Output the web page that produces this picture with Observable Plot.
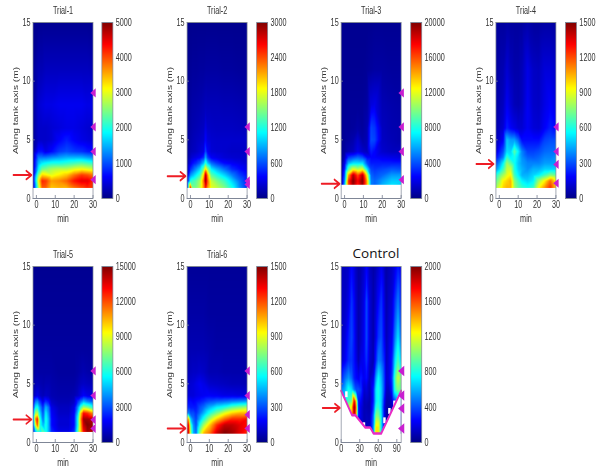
<!DOCTYPE html>
<html><head><meta charset="utf-8">
<script src="https://cdn.jsdelivr.net/npm/d3@7"></script>
<script src="https://cdn.jsdelivr.net/npm/@observablehq/plot@0.6"></script>
<style>
html,body{margin:0;padding:0;background:#fff;width:600px;height:471px;overflow:hidden}
#page{position:absolute;left:0;top:0;width:845px;height:471px;transform:scaleX(.71);transform-origin:0 0;filter:blur(.4px)}
#page svg{position:absolute;overflow:visible;background:transparent}
#ctitle{position:absolute;left:346px;width:60px;top:244px;text-align:center;font:13.5px "Open Sans",sans-serif;color:#111}
</style></head><body>
<div id="page"></div><div id="ctitle">Control</div>
<script>
const titles = ["Trial-1","Trial-2","Trial-3","Trial-4","Trial-5","Trial-6","Control"];
const maxima = [5000,3000,20000,1500,15000,1500,2000];
const barTicks = [
  [0,1000,2000,3000,4000,5000],[0,600,1200,1800,2400,3000],[0,4000,8000,12000,16000,20000],
  [0,300,600,900,1200,1500],[0,3000,6000,9000,12000,15000],[0,300,600,900,1200,1500],[0,400,800,1200,1600,2000]];
const timeTicks = [0,10,20,30];
const controlTimeTicks = [0,30,60,90];
const depthTicks = [0,5,10,15];
const jetStops = [0,.125,.375,.625,.875,1];
const jetColors = ["#000085","#0000ff","#00ffff","#ffff00","#ff0000","#800000"];

const t1 = [-1.8,1,3,5,8,12,16,20,24,27,30];
const d1 = [0.9,1.5,2,2.5,3,3.5,4,5,6,8,11,15];
const g1 = [
 [300,2600,3900,3900,3400,3500,3500,3800,4000,4200,4100],
 [400,3000,4200,4100,3600,3700,3900,4300,4500,4500,4200],
 [300,2500,3300,3200,3000,3200,3400,3800,4100,4000,3800],
 [250,1800,2400,2500,2700,2800,2800,3000,3100,3000,2900],
 [200,1500,1800,1900,2000,2000,2100,2200,2300,2200,2100],
 [150,1200,1200,1200,1300,1400,1500,1500,1500,1400,1300],
 [120,700,700,500,650,900,1000,900,850,750,700],
 [100,350,350,350,400,600,750,600,500,450,400],
 [100,350,350,350,400,450,500,500,450,400,350],
 [100,400,450,500,500,550,550,550,550,500,500],
 [100,250,250,300,300,300,300,300,300,300,250],
 [60,70,70,70,70,70,70,70,70,70,70]];

const t2 = [-1.8,0,1,3,5,7,8,9,11,14,18,22,26,30];
const d2 = [0.9,1.5,2,2.5,3,3.5,4,5,6,8,11,15];
const g2 = [
 [300,2700,1500,1500,1700,2200,2600,2200,1800,1700,1500,1200,800,500],
 [200,1200,1300,1400,1600,2300,3000,2400,1700,1500,1300,1000,700,450],
 [150,800,900,1100,1300,2000,2900,2200,1400,1200,1000,750,550,400],
 [100,500,600,800,1000,1500,2000,1600,1100,900,700,500,400,300],
 [80,300,400,500,650,950,1300,1000,700,550,400,350,300,250],
 [60,200,250,300,350,500,900,550,350,300,250,230,220,220],
 [60,150,170,200,250,300,600,350,250,230,220,200,200,200],
 [60,130,150,180,200,230,380,260,230,220,220,220,220,220],
 [60,110,130,150,170,190,290,210,200,190,190,190,180,170],
 [50,90,110,120,130,150,170,160,160,160,150,150,140,130],
 [40,60,70,70,80,80,90,90,90,90,80,80,70,70],
 [30,30,30,30,30,30,30,30,30,30,30,30,30,30]];

const t3 = [-1.8,0,2,4.5,7,9.5,12,14,16,20,25,30];
const d3b = [1.17,1.5,2,2.5,3,3.5,4,5,6,8,11,15];
const g3 = [
 [300,6000,16000,19500,17000,19500,14000,5000,4500,6000,7000,6500],
 [300,5000,16500,20000,17500,20000,14000,5000,4500,5500,6500,6500],
 [250,4000,14000,19000,16000,19000,12000,4500,4000,4500,5500,5500],
 [300,3000,9000,12000,11000,12000,7000,3800,3500,3800,4200,4000],
 [300,2000,6000,7000,7000,7000,4000,3000,3000,3000,3000,3000],
 [300,1000,3500,4000,4500,4000,2500,2500,2500,2200,2000,1800],
 [300,500,1000,1200,2000,1400,1200,3000,2500,1500,1200,1200],
 [300,400,600,800,1500,700,1000,4000,3800,1300,1000,800],
 [300,400,400,500,700,500,900,3800,3500,1200,900,800],
 [300,300,400,400,400,400,600,1800,2000,1000,800,700],
 [300,300,300,300,300,300,400,500,600,600,500,500],
 [250,250,250,250,250,250,250,250,300,300,300,300]];

const t4 = [-1.8,0,2,4,6,8,10,12,15,18,21,24,27,30];
const d4 = [0.9,1.5,2,2.5,3,3.5,4,5,6,8,11,15];
const g4 = [
 [800,900,1000,1050,1050,800,700,650,600,650,950,1100,1250,1000],
 [700,800,950,1000,1050,750,650,550,500,550,800,950,1150,950],
 [600,700,800,900,950,650,550,450,450,500,550,650,750,700],
 [400,500,650,850,850,600,500,450,400,450,450,500,500,500],
 [300,400,550,800,700,580,480,420,380,380,380,420,420,420],
 [200,280,380,650,550,600,500,400,330,320,340,380,380,400],
 [120,220,300,520,500,700,550,380,280,280,300,340,350,350],
 [80,120,180,480,420,420,330,200,200,200,200,280,300,300],
 [60,90,120,230,180,150,120,120,170,130,120,180,230,200],
 [50,70,90,170,120,80,70,90,170,110,100,150,180,150],
 [40,60,70,120,80,60,60,80,150,100,90,130,130,110],
 [40,40,40,50,40,40,40,40,60,40,40,50,50,40]];

const t5 = [-1.8,-0.5,0.5,2,3.5,5,6.5,8,12,17,20,22,23.5,25,27,30];
const d5 = [0.9,1.5,2,2.5,3,3.5,4,5,6,8,11,15];
const g5 = [
 [2500,4500,6000,5500,7000,6000,4500,2500,1500,1500,2500,7000,10000,13000,14500,14000],
 [3000,9000,12000,6000,4500,6000,4500,2000,1200,1200,2000,6000,10500,14000,15000,14500],
 [3500,11000,13000,6000,3500,6000,4500,2000,1200,1200,2000,6000,11000,14500,14500,14000],
 [3000,8000,8500,5000,3000,5500,4000,1800,1000,1000,1800,5000,10000,13000,12500,11000],
 [2000,5500,6000,4000,2500,4500,3500,1500,900,900,1500,4000,6500,8000,7500,6000],
 [1000,3500,4000,2500,1500,2500,2000,1000,700,700,1000,2500,3500,4500,3800,3000],
 [500,1200,1500,1000,800,1000,900,700,600,600,700,1000,1400,1800,1500,1300],
 [400,700,800,700,600,700,700,600,500,500,500,700,900,1000,900,800],
 [300,500,600,500,500,500,500,500,400,400,400,500,600,700,600,500],
 [300,400,400,400,400,400,400,400,400,400,400,400,400,400,400,400],
 [250,300,300,300,300,300,300,300,300,300,300,300,300,300,300,300],
 [200,200,200,200,200,200,200,200,200,200,200,200,200,200,200,200]];

const t6 = [-1.8,-1,0,1.5,3,5,7,10,14,18,22,26,30];
const d6 = [0.75,1.5,2,2.5,3,3.5,4,5,6,8,11,15];
const g6 = [
 [1300,1400,800,450,350,800,1050,1150,1400,1500,1450,1350,1250],
 [1250,1350,700,400,300,600,800,1000,1250,1400,1400,1350,1300],
 [1000,1100,500,350,280,450,600,800,1000,1150,1250,1250,1300],
 [300,400,300,300,250,350,450,600,750,900,1000,1050,1050],
 [200,250,220,220,220,300,350,450,550,600,700,750,800],
 [150,200,200,180,200,220,250,300,330,350,380,400,420],
 [100,130,130,130,150,160,170,180,170,150,150,140,140],
 [80,110,120,130,150,170,150,110,100,90,80,80,70],
 [60,80,90,100,100,110,100,70,70,60,60,60,60],
 [50,60,70,70,70,70,70,60,50,50,50,50,50],
 [40,50,50,50,50,50,50,40,40,40,40,40,40],
 [30,30,30,30,30,30,30,30,30,30,30,30,30]];

const t7 = [0,6,12,17,21,24,28,32,37,41,46,52,56,60,65,70,73,77,82,87,92,97];
const d7 = [0.75,1.3,2.3,3,3.5,4.5,5.5,7,9,12,15];
const g7 = [
 [100,100,100,100,100,100,100,100,100,120,120,500,1300,1300,700,200,100,100,100,100,100,100],
 [100,100,100,100,200,200,100,100,100,120,120,500,1300,1300,700,200,100,100,100,100,100,100],
 [500,600,1200,1400,1900,1500,300,200,100,120,100,450,1000,1000,700,200,70,80,150,300,400,300],
 [700,700,1100,1300,2000,1600,300,200,100,100,80,350,800,850,650,200,70,70,120,300,500,400],
 [700,700,900,1000,1800,1400,300,250,100,120,80,300,700,800,650,250,80,80,150,400,600,500],
 [500,600,800,700,500,400,400,350,150,180,100,300,700,800,650,350,120,120,300,850,1000,950],
 [300,450,550,450,300,260,220,300,220,280,120,200,550,750,600,350,150,180,350,900,1150,1000],
 [150,220,330,350,280,200,100,200,230,350,150,90,300,500,450,300,120,180,300,700,900,650],
 [130,170,300,380,280,170,80,140,220,400,170,80,200,350,400,220,100,160,220,500,700,450],
 [130,130,200,350,250,150,80,120,200,400,170,80,150,250,350,180,80,130,170,350,500,300],
 [120,120,150,250,180,120,70,90,150,250,120,70,100,150,220,120,70,100,130,200,300,200]];

const boundaryTime = [0,17.6,23,39,47,52.4,64.7,97];
const boundaryDepth = [4.4,2.33,2.33,1.28,1.28,0.77,0.77,4.4];
const notchTime = [9,37.4,70.6,78.6,86.7];
const notchDepth = [4.07,1.43,1.85,2.65,3.28];

const sensors = [[9,6.1,4,1.6],[6.1,4,1.5,1.2],[9,6.1,4,1.6],[6.1,4,2.9,1.3],[6.1,4,1.93,1.2],[6.1,4,2.37,1.2],[6.1,4,2.9,1.2]];
const releaseDepth = [2,1.9,1.25,2.94,1.96,1.2,2.95];
const arrowStart = [-12.2,-12.2,-12.2,-12.2,-12.2,-12.2,-30];
const arrowEnd = [-2.6,-2.6,-2.6,-3,-2.6,-2.6,-2];

const panelLeft = [32.3,186.7,340.7,495.7,32.3,186.7,340.7];
const panelTop = [22,22,22,22,266,266,266];
const barLeft = [101.7,256,410.7,565,101.7,256,410.7];
const times = [t1,t2,t3,t4,t5,t6,t7];
const depths = [d1,d2,d3b,d4,d5,d6,d7];
const grids = [g1,g2,g3,g4,g5,g6,g7];

const SX = 0.71, ML = 48, MR = 6, MT = 24, MB = 30, IW = 84.5, IH = 176;
const FS = 10.2, ink = "#333", edge = "#7f8696";
const page = document.getElementById("page");
const triLeft = {draw(c, s){const w = Math.sqrt(s)*.51, h = Math.sqrt(s)*.62; c.moveTo(-w,0); c.lineTo(w,-h); c.lineTo(w,h); c.closePath();}};

function colorScale(max){
  return {type:"linear", domain:jetStops.map(f=>f*max), range:jetColors, interpolate:"rgb", clamp:true};
}
function place(svg, left, top){
  svg.style.left = (left/SX) + "px";
  svg.style.top = top + "px";
  page.appendChild(svg);
}

titles.forEach((title,i)=>{
  const control = title === "Control";
  const pts = grids[i].flatMap((row,r)=>row.map((v,c)=>({t:times[i][c], d:depths[i][r], v})));
  const xDomain = control ? [0,97] : [-1.8,30];
  const xEnd = xDomain[1];
  const marks = [
    Plot.raster(pts,{x:"t",y:"d",fill:"v",interpolate:"barycentric",x1:xDomain[0],x2:xEnd,y1:depths[i][0],y2:15,pixelSize:.5}),
  ];
  if (control) marks.push(
    Plot.areaY(boundaryTime.map((t,k)=>({t,d:boundaryDepth[k]})),{x:"t",y1:0,y2:"d",fill:"white"}),
    Plot.rect(notchTime.map((t,k)=>({t,d:notchDepth[k]})),{x1:d=>d.t-2,x2:d=>d.t+2,y1:d=>d.d-.25,y2:d=>d.d+.25,fill:"white"}),
    Plot.line(boundaryTime.map((t,k)=>({t,d:boundaryDepth[k]})),{x:"t",y:"d",stroke:"#e82bc4",strokeWidth:2.6})
  );
  marks.push(
    Plot.frame({stroke:edge,strokeWidth:1}),
    Plot.axisX({ticks:control?controlTimeTicks:timeTicks,tickSize:-3,tickPadding:5.5,fontSize:FS,color:ink,stroke:edge,
      label:"min",labelAnchor:"center",labelArrow:"none",labelOffset:23}),
    Plot.axisY({ticks:depthTicks,tickSize:-3,tickPadding:6.5,fontSize:FS,color:ink,stroke:edge,
      label:"Along tank axis (m)",labelAnchor:"center",labelArrow:"none",labelOffset:28.6}),
    Plot.dot(sensors[i],{x:()=>xEnd,y:d=>d,symbol:triLeft,r:control?4.8:4.2,fill:"#c81ed0"}),
    Plot.arrow([releaseDepth[i]],{x1:()=>arrowStart[i],x2:()=>arrowEnd[i],y1:d=>d,y2:d=>d,stroke:"#ee1c25",strokeWidth:2,headLength:9,bend:0})
  );
  if (!control) marks.push(Plot.text([title],{frameAnchor:"top",dy:-16,fontSize:FS,fill:ink}));
  const svg = Plot.plot({
    width:IW+ML+MR, height:IH+MT+MB, marginLeft:ML, marginRight:MR, marginTop:MT, marginBottom:MB,
    style:{fontFamily:"'Liberation Sans',Arial,sans-serif",fontSize:FS+"px",background:"transparent",overflow:"visible"},
    x:{domain:xDomain}, y:{domain:[0,15]}, color:colorScale(maxima[i]), marks
  });
  place(svg, panelLeft[i]-ML*SX, panelTop[i]-MT);

  const bar = Plot.plot({
    width:15.5+2+44, height:IH+MT+MB, marginLeft:2, marginRight:44, marginTop:MT, marginBottom:MB,
    style:{fontFamily:"'Liberation Sans',Arial,sans-serif",fontSize:FS+"px",background:"transparent",overflow:"visible"},
    x:{domain:[0,1],axis:null}, y:{domain:[0,maxima[i]]}, color:colorScale(maxima[i]),
    marks:[
      Plot.raster({fill:(x,y)=>y,x1:0,x2:1,y1:0,y2:maxima[i],pixelSize:1}),
      Plot.frame({stroke:edge}),
      Plot.axisY({anchor:"right",ticks:barTicks[i],tickFormat:d=>String(d),tickSize:0,tickPadding:4,fontSize:FS,color:ink,label:null})
    ]
  });
  place(bar, barLeft[i]-2*SX, panelTop[i]-MT);
});
</script>
</body></html>
